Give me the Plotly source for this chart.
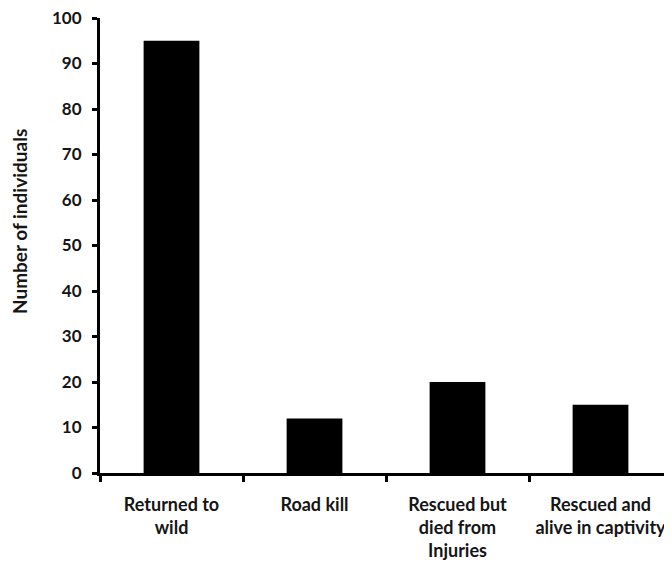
import plotly.graph_objects as go

categories = ["Returned to<br>wild", "Road kill", "Rescued but<br>died from<br>Injuries", "Rescued and<br>alive in captivity"]
values = [95, 12, 20, 15]
y_ticks = [0, 10, 20, 30, 40, 50, 60, 70, 80, 90, 100]
y_title = "Number of individuals"

fig = go.Figure(go.Bar(x=categories, y=values, marker=dict(color="#000000", line=dict(width=0))))

# page body has an 8px default margin, so the figure is 8px smaller and shifted
fig.update_layout(
    width=664, height=564,
    margin=dict(l=92, r=0, t=10, b=99, autoexpand=False),
    paper_bgcolor="white", plot_bgcolor="white",
    bargap=0.61,
    showlegend=False,
)
fig.update_xaxes(
    automargin=False, tickangle=0, ticklabeloverflow="allow",
    showline=True, linecolor="#000000", linewidth=3,
    ticks="outside", tickson="boundaries", ticklen=6, tickwidth=3, tickcolor="#000000",
    tickfont=dict(family="Lato", size=18, color="#151515", weight="bold"),
    ticklabelstandoff=13,
    showgrid=False, zeroline=False,
)
fig.update_yaxes(
    automargin=False, ticklabeloverflow="allow",
    range=[0, 100], tickvals=y_ticks,
    showline=True, linecolor="#000000", linewidth=3,
    ticks="outside", ticklen=5, tickwidth=3, tickcolor="#000000",
    tickfont=dict(family="Lato", size=17, color="#151515", weight="bold"),
    ticklabelstandoff=7,
    showgrid=False, zeroline=False,
)
fig.add_annotation(
    text=y_title, textangle=-90, showarrow=False,
    xref="paper", yref="paper", x=-0.1416, y=0.5516,
    xanchor="center", yanchor="middle",
    font=dict(family="Lato", size=19, color="#151515", weight="bold"),
)

fig.write_html("out.html")
